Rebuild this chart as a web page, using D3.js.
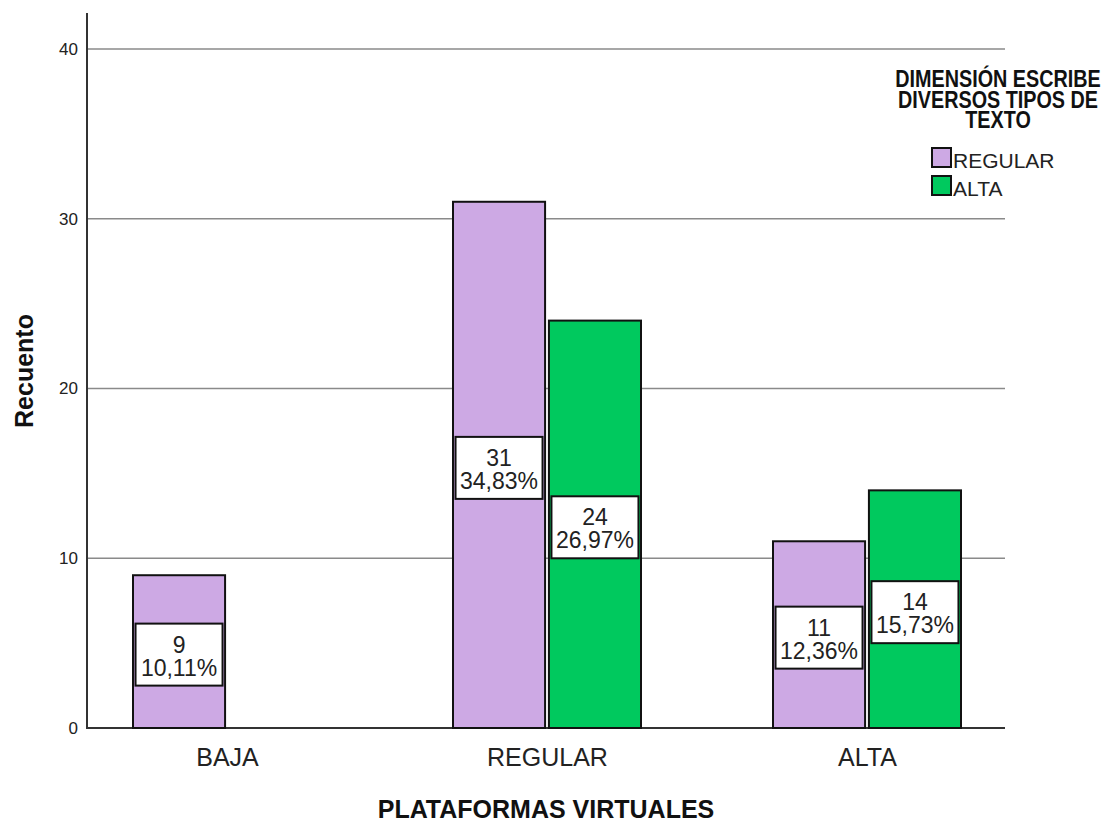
<!DOCTYPE html>
<html><head><meta charset="utf-8">
<script src="https://cdn.jsdelivr.net/npm/d3@7"></script>
<style>body{margin:0;background:#fff}svg{display:block}text{font-family:"Liberation Sans",Arial,sans-serif}</style>
</head><body>
<svg id="c" width="1107" height="822"></svg>
<script>
const categories = ["BAJA","REGULAR","ALTA"];
const series = ["REGULAR","ALTA"];
const regularValues = [9,31,11];
const altaValues = [0,24,14];
const regularPct = ["10,11%","34,83%","12,36%"];
const altaPct = ["","26,97%","15,73%"];
const yTicks = [0,10,20,30,40];
const colors = ["#cda9e4","#00c95e"];
const legendTitle = ["DIMENSIÓN ESCRIBE","DIVERSOS TIPOS DE","TEXTO"];

const svg = d3.select("#c");
const y = d3.scaleLinear().domain([0,40]).range([728,49]);
const x = d3.scalePoint().domain(categories).range([227,867]);
const xs = d3.scaleBand().domain(series).range([-94,94]).paddingInner(0.04);

// gridlines
svg.append("g").selectAll("line").data(yTicks.filter(d=>d>0)).join("line")
  .attr("x1",87).attr("x2",1005).attr("y1",d=>y(d)).attr("y2",d=>y(d))
  .attr("stroke","#8a8a8a").attr("stroke-width",1.5);

// y axis
const ya = svg.append("g").attr("transform","translate(87,0)")
  .call(d3.axisLeft(y).tickValues(yTicks).tickSize(0).tickPadding(9));
ya.select(".domain").remove();
ya.selectAll("text").attr("font-size",17).attr("fill","#222");
svg.append("line").attr("x1",87).attr("x2",87).attr("y1",13).attr("y2",729).attr("stroke","#333").attr("stroke-width",2);
svg.append("line").attr("x1",86).attr("x2",1005).attr("y1",728).attr("y2",728).attr("stroke","#333").attr("stroke-width",2);

// x axis labels
const xa = svg.append("g").attr("transform","translate(0,728)")
  .call(d3.axisBottom(x).tickSize(0).tickPadding(0));
xa.select(".domain").remove();
xa.selectAll("text").attr("dy",null).attr("y",38).attr("font-size",25).attr("fill","#222");

const data = [];
categories.forEach((c,i)=>{
  data.push({cat:c,s:"REGULAR",v:regularValues[i],p:regularPct[i],col:colors[0]});
  data.push({cat:c,s:"ALTA",v:altaValues[i],p:altaPct[i],col:colors[1]});
});
const shown = data.filter(d=>d.v>0);
svg.append("g").selectAll("rect").data(shown).join("rect")
  .attr("x",d=>x(d.cat)+xs(d.s)).attr("width",xs.bandwidth())
  .attr("y",d=>y(d.v)).attr("height",d=>y(0)-y(d.v))
  .attr("fill",d=>d.col).attr("stroke","#111").attr("stroke-width",2);

const lab = svg.append("g").selectAll("g").data(shown).join("g")
  .attr("transform",d=>`translate(${x(d.cat)+xs(d.s)+xs.bandwidth()/2},${(y(d.v)+y(0))/2+3})`);
lab.append("rect").attr("x",-43.5).attr("y",-31).attr("width",87).attr("height",62)
  .attr("fill","#fff").attr("stroke","#111").attr("stroke-width",2);
lab.append("text").attr("text-anchor","middle").attr("y",-2).attr("font-size",23).attr("fill","#222").text(d=>d.v);
lab.append("text").attr("text-anchor","middle").attr("y",21).attr("font-size",23).attr("fill","#222").text(d=>d.p);

// axis titles
svg.append("text").attr("transform","translate(33,371) rotate(-90)").attr("text-anchor","middle")
  .attr("font-size",25).attr("font-weight","bold").attr("fill","#111").text("Recuento");
svg.append("text").attr("x",546).attr("y",818).attr("text-anchor","middle")
  .attr("font-size",25).attr("font-weight","bold").attr("fill","#111").text("PLATAFORMAS VIRTUALES");

// legend
const lg = svg.append("g");
lg.selectAll("text.t").data(legendTitle).join("text").attr("class","t")
  .attr("transform",(d,i)=>`translate(998,${87+i*20.5}) scale(0.86,1)`).attr("text-anchor","middle")
  .attr("font-size",23).attr("font-weight","bold").attr("fill","#111")
  .text(d=>d);
const li = lg.selectAll("g.i").data(series).join("g").attr("class","i")
  .attr("transform",(d,i)=>`translate(932,${148+i*28})`);
li.append("rect").attr("width",19).attr("height",19).attr("fill",(d,i)=>colors[i]).attr("stroke","#111").attr("stroke-width",2);
li.append("text").attr("x",21).attr("y",20).attr("font-size",21).attr("fill","#222").text(d=>d);
</script>
</body></html>
